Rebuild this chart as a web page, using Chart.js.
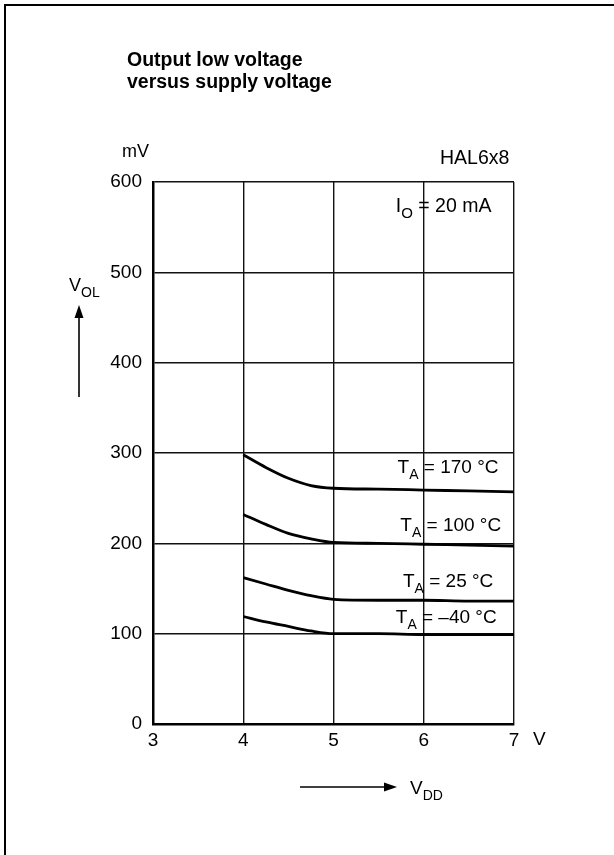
<!DOCTYPE html>
<html>
<head>
<meta charset="utf-8">
<script src="https://cdn.jsdelivr.net/npm/chart.js@4"></script>
<style>
  html, body { margin: 0; padding: 0; background: #fff; }
  #wrap { width: 614px; height: 855px; position: relative; }
</style>
</head>
<body>
<div id="wrap"><canvas id="chart" width="614" height="855"></canvas></div>
<script>
// Supply voltage (V) and output low voltage (mV) per ambient temperature
const vdd = [4, 4.25, 4.5, 4.75, 5, 5.5, 6, 6.5, 7];
const vol170 = [298, 284, 272, 264, 261, 260, 259, 258, 257];
const vol100 = [232, 221, 211, 205, 201, 200, 199, 198, 197];
const vol25 = [162, 155, 148, 142, 138, 137, 137, 136, 136];
const volM40 = [119, 113, 108, 103, 100, 100, 99, 99, 99];
const tempLabels = ['170 °C', '100 °C', '25 °C', '\u201340 °C'];

const xTicks = [3, 4, 5, 6, 7];
const yTicks = [0, 100, 200, 300, 400, 500, 600];

const FONT = '"Liberation Sans", Arial, Helvetica, sans-serif';

function toPoints(ys) {
    return vdd.map((x, i) => ({ x: x, y: ys[i] }));
}

function curve(ys) {
    return {
        data: toPoints(ys),
        showLine: true,
        borderColor: '#000',
        borderWidth: 2.8,
        pointRadius: 0,
        cubicInterpolationMode: 'monotone',
        fill: false
    };
}

// text with a subscript part, e.g. T_A, V_OL
function subText(ctx, x, y, main, sub, rest, size, subSize) {
    ctx.font = size + 'px ' + FONT;
    ctx.fillText(main, x, y);
    let w = ctx.measureText(main).width;
    ctx.font = subSize + 'px ' + FONT;
    ctx.fillText(sub, x + w, y + size * 0.32);
    w += ctx.measureText(sub).width;
    if (rest) {
        ctx.font = size + 'px ' + FONT;
        ctx.fillText(rest, x + w, y);
    }
}

function arrow(ctx, x1, y1, x2, y2) {
    const ang = Math.atan2(y2 - y1, x2 - x1);
    const len = 13, half = 4.5;
    ctx.lineWidth = 1.6;
    ctx.beginPath();
    ctx.moveTo(x1, y1);
    ctx.lineTo(x2 - Math.cos(ang) * len, y2 - Math.sin(ang) * len);
    ctx.stroke();
    ctx.beginPath();
    ctx.moveTo(x2, y2);
    ctx.lineTo(x2 - Math.cos(ang) * len - Math.sin(ang) * half, y2 - Math.sin(ang) * len + Math.cos(ang) * half);
    ctx.lineTo(x2 - Math.cos(ang) * len + Math.sin(ang) * half, y2 - Math.sin(ang) * len - Math.cos(ang) * half);
    ctx.closePath();
    ctx.fill();
}

// annotation anchors in data units (left edge, baseline)
const tempAnchors = [
    { x: 5.71, y: 278 },
    { x: 5.74, y: 214 },
    { x: 5.77, y: 152 },
    { x: 5.69, y: 112 }
];

const decorations = {
    id: 'decorations',
    afterDraw(chart) {
        const ctx = chart.ctx;
        const xs = chart.scales.x, ys = chart.scales.y;
        ctx.save();
        ctx.fillStyle = '#000';
        ctx.strokeStyle = '#000';
        ctx.textBaseline = 'alphabetic';
        ctx.textAlign = 'left';

        // page frame (left and top edges)
        ctx.lineWidth = 2;
        ctx.beginPath();
        ctx.moveTo(5, 855);
        ctx.lineTo(5, 5);
        ctx.lineTo(614, 5);
        ctx.stroke();

        // title
        ctx.font = 'bold 19.5px ' + FONT;
        ctx.fillText('Output low voltage', 127, 66);
        ctx.fillText('versus supply voltage', 127, 88);

        ctx.font = '18px ' + FONT;
        ctx.fillText('mV', 122, 157);
        ctx.font = '19.5px ' + FONT;
        ctx.fillText('HAL6x8', 440, 164);

        // x unit
        ctx.font = '19px ' + FONT;
        ctx.fillText('V', 533, 745);

        // y axis name and arrow
        subText(ctx, 69, 291, 'V', 'OL', '', 18, 14);
        arrow(ctx, 79, 397, 79, 305);

        // x axis name and arrow
        arrow(ctx, 300, 787, 397, 787);
        subText(ctx, 410, 794, 'V', 'DD', '', 19, 14);

        // condition
        subText(ctx, xs.getPixelForValue(5.69), ys.getPixelForValue(567), 'I', 'O', ' = 20 mA', 19.5, 15);

        // temperature labels
        tempLabels.forEach((t, i) => {
            const a = tempAnchors[i];
            subText(ctx, xs.getPixelForValue(a.x), ys.getPixelForValue(a.y), 'T', 'A', ' = ' + t, 19, 14);
        });
        ctx.restore();
    }
};

new Chart(document.getElementById('chart'), {
    type: 'scatter',
    data: {
        datasets: [curve(vol170), curve(vol100), curve(vol25), curve(volM40)]
    },
    options: {
        responsive: false,
        animation: false,
        events: [],
        layout: { padding: { left: 0, right: 100, top: 182, bottom: 0 } },
        plugins: {
            legend: { display: false },
            tooltip: { enabled: false },
            title: { display: false }
        },
        scales: {
            x: {
                type: 'linear',
                min: 3,
                max: 7,
                afterBuildTicks: (s) => { s.ticks = xTicks.map(v => ({ value: v })); },
                afterFit: (s) => { s.height = 131; },
                grid: { color: '#111', lineWidth: 1.4, drawTicks: false },
                border: { color: '#000', width: 2.5 },
                ticks: {
                    color: '#000',
                    padding: 5,
                    font: { family: FONT, size: 19 }
                }
            },
            y: {
                type: 'linear',
                min: 0,
                max: 600,
                afterBuildTicks: (s) => { s.ticks = yTicks.map(v => ({ value: v })); },
                afterFit: (s) => { s.width = 153; },
                grid: { color: '#111', lineWidth: 1.4, drawTicks: false },
                border: { color: '#000', width: 2.5 },
                ticks: {
                    color: '#000',
                    padding: 11,
                    font: { family: FONT, size: 19 }
                }
            }
        }
    },
    plugins: [decorations]
});
</script>
</body>
</html>
